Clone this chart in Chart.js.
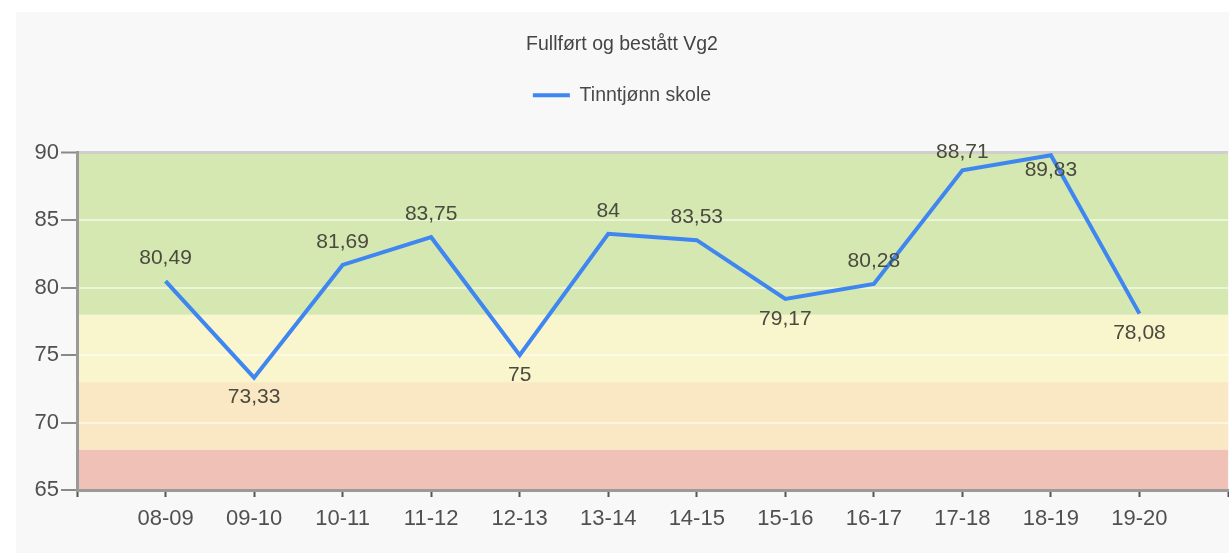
<!DOCTYPE html>
<html>
<head>
<meta charset="utf-8">
<title>Fullført og bestått Vg2</title>
<script src="https://cdn.jsdelivr.net/npm/chart.js@4.4.1/dist/chart.umd.min.js"></script>
<style>
  body { margin: 0; background: #fff; }
  #wrap { position: absolute; left: 16px; top: 12px; width: 1213px; height: 541px; background: #f8f8f8; }
</style>
</head>
<body>
<div id="wrap"><canvas id="chart" width="1213" height="541"></canvas></div>
<script>
// Skoleår og verdier
const years = ['08-09', '09-10', '10-11', '11-12', '12-13', '13-14', '14-15', '15-16', '16-17', '17-18', '18-19', '19-20'];
const values = [80.49, 73.33, 81.69, 83.75, 75, 84, 83.53, 79.17, 80.28, 88.71, 89.83, 78.08];
const yTicks = [65, 70, 75, 80, 85, 90];

// Fargebånd (grenser nedenfra og opp)
const bandEdges = [65, 68, 73, 78, 90];
const bandColors = ['#efc1b7', '#fae8c4', '#f9f5cc', '#d5e8b1'];

// Hvor verdietiketten står i forhold til punktet
const labelSide = ['above', 'below', 'above', 'above', 'below', 'above', 'above', 'below', 'above', 'above', 'below', 'below'];

const lineColor = '#3f86f0';
const fontFamily = '"Liberation Sans", Arial, sans-serif';

// Tom plass før første og etter siste år
const labels = ['', ...years, ''];
const data = [null, ...values, null];

// Bakgrunnsbånd
const bands = {
    id: 'bands',
    beforeDraw(chart) {
        const { ctx, chartArea: a, scales: { y } } = chart;
        ctx.save();
        for (let i = 0; i < bandColors.length; i++) {
            const top = y.getPixelForValue(bandEdges[i + 1]);
            const bottom = y.getPixelForValue(bandEdges[i]);
            ctx.fillStyle = bandColors[i];
            ctx.fillRect(a.left, top, a.right - a.left, bottom - top);
        }
        ctx.restore();
    }
};

// Verdier ved punktene
const pointLabels = {
    id: 'pointLabels',
    afterDatasetsDraw(chart) {
        const ctx = chart.ctx;
        const meta = chart.getDatasetMeta(0);
        ctx.save();
        ctx.font = '21px ' + fontFamily;
        ctx.fillStyle = '#4a4a3e';
        ctx.textAlign = 'center';
        ctx.textBaseline = 'middle';
        meta.data.forEach((pt, i) => {
            const v = data[i];
            if (v == null) return;
            const side = labelSide[i - 1];
            let dy = side === 'above' ? -23 : 20;
            if (v > 88 && side === 'above') dy = -18;
            if (v > 88 && side === 'below') dy = 15;
            ctx.fillText(String(v).replace('.', ','), pt.x, pt.y + dy);
        });
        ctx.restore();
    }
};

// Litt luft under legenden
const legendGap = {
    id: 'legendGap',
    beforeInit(chart) {
        const fit = chart.legend.fit;
        chart.legend.fit = function () {
            fit.call(this);
            this.height += 38;
        };
    }
};

new Chart(document.getElementById('chart'), {
    type: 'line',
    data: {
        labels: labels,
        datasets: [{
            label: 'Tinntjønn skole',
            data: data,
            borderColor: lineColor,
            backgroundColor: lineColor,
            borderWidth: 4,
            pointRadius: 0,
            tension: 0,
            spanGaps: false
        }]
    },
    options: {
        responsive: false,
        animation: false,
        devicePixelRatio: 1,
        layout: { padding: { top: 0, left: 0, right: 1, bottom: 0 } },
        plugins: {
            title: {
                display: true,
                text: 'Fullført og bestått Vg2',
                color: '#444',
                font: { family: fontFamily, size: 19.5, weight: 'normal' },
                padding: { top: 21, bottom: 19 }
            },
            legend: {
                display: true,
                labels: {
                    boxWidth: 37,
                    boxHeight: 4,
                    color: '#4a4a4a',
                    font: { family: fontFamily, size: 19.5 },
                    generateLabels: (chart) =>
                        Chart.defaults.plugins.legend.labels.generateLabels(chart)
                            .map(l => ({ ...l, lineWidth: 0, fillStyle: lineColor }))
                }
            },
            tooltip: { enabled: false }
        },
        scales: {
            x: {
                type: 'category',
                offset: false,
                afterFit: (scale) => {
                    scale.height = 63;
                    scale.paddingRight = 0;
                },
                border: { display: true, color: '#9a9a9a', width: 3 },
                grid: {
                    drawOnChartArea: false,
                    tickLength: 7,
                    tickColor: '#555',
                    tickWidth: 2
                },
                ticks: {
                    autoSkip: false,
                    maxRotation: 0,
                    padding: 9,
                    color: '#505050',
                    font: { family: fontFamily, size: 22 }
                }
            },
            y: {
                min: 65,
                max: 90,
                afterFit: (scale) => { scale.width = 61; },
                afterBuildTicks: (scale) => { scale.ticks = yTicks.map(v => ({ value: v })); },
                border: { display: true, color: '#9a9a9a', width: 3 },
                grid: {
                    color: (c) => c.tick && c.tick.value === 90 ? '#cfcfcf' :
                        (c.tick && c.tick.value === 65 ? 'rgba(0,0,0,0)' : 'rgba(255,255,255,0.55)'),
                    lineWidth: (c) => c.tick && c.tick.value === 90 ? 3 : 2,
                    tickLength: 16,
                    tickColor: '#8a8a8a',
                    tickWidth: 2
                },
                ticks: {
                    padding: 2,
                    color: '#505050',
                    font: { family: fontFamily, size: 22 }
                }
            }
        }
    },
    plugins: [bands, pointLabels, legendGap]
});
</script>
</body>
</html>
